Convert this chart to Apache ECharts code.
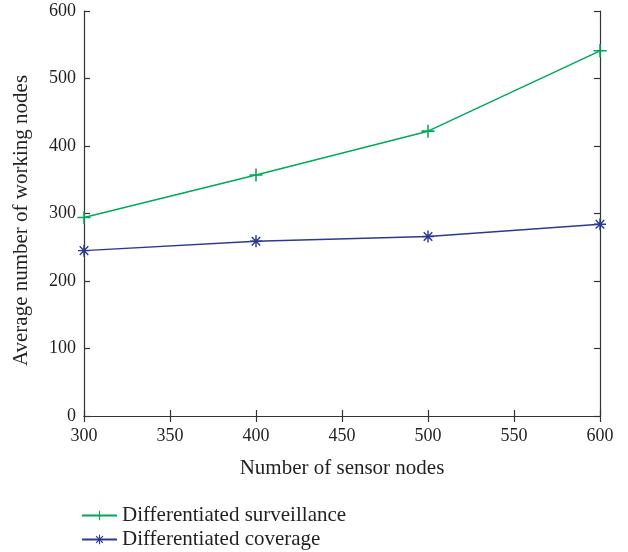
<!DOCTYPE html>
<html><head><meta charset="utf-8">
<script src="https://cdn.jsdelivr.net/npm/echarts@6/dist/echarts.min.js"></script>
<style>html,body{margin:0;padding:0;background:#fff}#c{width:628px;height:552px}</style>
</head><body><div id="c"></div>
<script>
const xValues = [300, 400, 500, 600];
const surveillance = [294, 357, 422, 541];
const coverage = [245, 259, 266, 284];
const seriesNames = ['Differentiated surveillance', 'Differentiated coverage'];
const xTicks = [300, 350, 400, 450, 500, 550, 600];

const FONT = '"Liberation Serif", "DejaVu Serif", serif';
const TXT = '#231f20';
const plusSym = 'path://M8.8,0h2.4v20h-2.4z M0,8.8h20v2.4h-20z';
const starSym = 'path://M8.8,0h2.4v20h-2.4z M0,8.8h20v2.4h-20z M2,3.7 L3.7,2 L18,16.3 L16.3,18z M16.3,2 L18,3.7 L3.7,18 L2,16.3z';

const chart = echarts.init(document.getElementById('c'), null, {renderer: 'canvas'});
const axisCommon = {
  axisLine: {show: true, lineStyle: {color: '#333', width: 1.2}},
  axisTick: {show: true, inside: true, length: 6, lineStyle: {color: '#333', width: 1.2}},
  splitLine: {show: false}
};
const legendCommon = {
  left: 81, orient: 'vertical', itemWidth: 35, itemHeight: 12, padding: 0,
  textStyle: {fontFamily: FONT, fontSize: 21, color: TXT}
};
chart.setOption({
  animation: false,
  grid: {left: 84, right: 28, top: 11, bottom: 136, containLabel: false},
  legend: [
    Object.assign({top: 505, data: [seriesNames[0]]}, legendCommon),
    Object.assign({top: 529, data: [seriesNames[1]]}, legendCommon)
  ],
  xAxis: [
    Object.assign({
      type: 'value', min: 300, max: 600, interval: 50, position: 'bottom',
      name: 'Number of sensor nodes', nameLocation: 'middle', nameGap: 42,
      nameTextStyle: {fontFamily: FONT, fontSize: 21, color: TXT},
      axisLabel: {fontFamily: FONT, fontSize: 18, color: TXT, margin: 11,
        formatter: v => xTicks.includes(v) ? String(v) : ''}
    }, axisCommon),
    Object.assign({
      type: 'value', min: 300, max: 600, interval: 50, position: 'top',
      axisLabel: {show: false}
    }, axisCommon)
  ],
  yAxis: [
    Object.assign({
      type: 'value', min: 0, max: 600, interval: 100, position: 'left',
      name: 'Average number of working nodes', nameLocation: 'middle', nameGap: 52,
      nameTextStyle: {fontFamily: FONT, fontSize: 21, color: TXT, padding: [0, 14, 0, 0]},
      axisLabel: {fontFamily: FONT, fontSize: 18, color: TXT, margin: 8}
    }, axisCommon),
    Object.assign({
      type: 'value', min: 0, max: 600, interval: 100, position: 'right',
      axisLabel: {show: false}
    }, axisCommon)
  ],
  series: [
    {
      name: seriesNames[0], type: 'line',
      data: xValues.map((x, i) => [x, surveillance[i]]),
      symbol: plusSym, symbolSize: 13, showAllSymbol: true,
      lineStyle: {color: '#00a859', width: 1.5},
      itemStyle: {color: '#00a859'}
    },
    {
      name: seriesNames[1], type: 'line',
      data: xValues.map((x, i) => [x, coverage[i]]),
      symbol: starSym, symbolSize: 12, showAllSymbol: true,
      lineStyle: {color: '#2b3990', width: 1.5},
      itemStyle: {color: '#2b3990'}
    }
  ]
});
</script></body></html>
